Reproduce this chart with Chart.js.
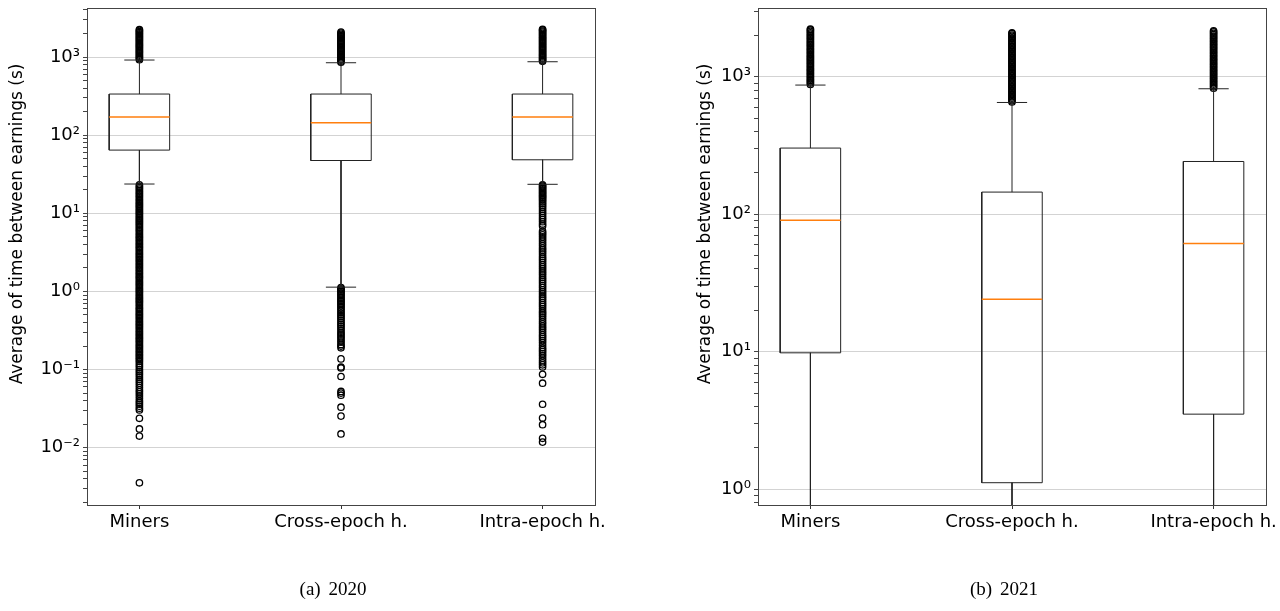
<!DOCTYPE html>
<html>
<head>
<meta charset="utf-8">
<script src="https://cdn.jsdelivr.net/npm/chart.js@4.4.1/dist/chart.umd.min.js"></script>
<style>
  body { margin: 0; background: #fff; }
  #wrap { position: relative; width: 1280px; height: 611px; }
  canvas { position: absolute; top: 0; }
  .caption {
    position: absolute; top: 578px; width: 200px; margin-left: -100px;
    text-align: center; font: 19px "Liberation Serif", "Times New Roman", serif;
    word-spacing: 3px; color: #000;
  }
</style>
</head>
<body>
<div id="wrap">
  <canvas id="chart-2020" width="640" height="611" style="left:0"></canvas>
  <canvas id="chart-2021" width="640" height="611" style="left:640px"></canvas>
  <div class="caption" style="left:333px">(a) 2020</div>
  <div class="caption" style="left:1004px">(b) 2021</div>
</div>
<script>
// Categories and axis labels
const categories = ["Miners", "Cross-epoch h.", "Intra-epoch h."]
const yTitle = "Average of time between earnings (s)"

// 2020 box statistics (seconds)
const q1_2020 = [64.4, 47.4, 48.4]
const median_2020 = [171, 144, 171]
const q3_2020 = [336, 336, 336]
const whiskerLow_2020 = [23.7, 1.135, 23.5]
const whiskerHigh_2020 = [915, 845, 870]

// 2020 outliers
const minersFliers_2020 = [925, 955, 990, 1025, 1060, 1100, 1140, 1180, 1220, 1265, 1310, 1355, 1400, 1450, 1500, 1555, 1610, 1665, 1725, 1785, 1850, 1915, 1980, 2050, 2120, 2190, 2250,
  23.2, 22.2, 21.3, 20.4, 19.5, 18.7, 17.9, 17.2, 16.5, 15.8, 15.1, 14.5, 13.9, 13.3, 12.8, 12.3, 11.8, 11.3, 10.8, 10.4,
  10, 9.6, 9.2, 8.8, 8.45, 8.1, 7.8, 7.5, 7.2, 6.9, 6.6, 6.3, 6.05, 5.8, 5.55, 5.3, 5.1, 4.9, 4.7, 4.5, 4.3, 4.12, 3.95, 3.8, 3.65, 3.5, 3.35, 3.2, 3.07, 2.95,
  2.83, 2.71, 2.6, 2.5, 2.4, 2.3, 2.2, 2.11, 2.02, 1.94, 1.86, 1.78, 1.71, 1.64, 1.57, 1.51, 1.45, 1.39, 1.33, 1.28, 1.23, 1.18, 1.13, 1.08, 1.04,
  1.0, 0.96, 0.92, 0.88, 0.845, 0.81, 0.78, 0.75, 0.72, 0.69, 0.66, 0.63, 0.605, 0.58, 0.555, 0.53, 0.51, 0.49, 0.47, 0.45, 0.43, 0.412, 0.395, 0.38, 0.365,
  0.35, 0.335, 0.32, 0.307, 0.295, 0.283, 0.271, 0.26, 0.25, 0.24, 0.23, 0.22, 0.211, 0.202, 0.194, 0.186, 0.178, 0.171, 0.164, 0.157, 0.151, 0.145, 0.139, 0.133,
  0.127, 0.12, 0.113, 0.107, 0.1, 0.095, 0.09, 0.085, 0.08, 0.075, 0.071, 0.067, 0.063, 0.059, 0.055, 0.052, 0.049, 0.046, 0.043, 0.04, 0.038, 0.036, 0.034, 0.032, 0.0305,
  0.0238, 0.0174, 0.0141, 0.00356]
const crossFliers_2020 = [855, 885, 915, 945, 980, 1015, 1050, 1085, 1125, 1165, 1205, 1245, 1290, 1335, 1380, 1430, 1480, 1530, 1585, 1640, 1700, 1760, 1820, 1885, 1950, 2020, 2080,
  1.12, 1.08, 1.04, 1.0, 0.96, 0.92, 0.88, 0.84, 0.8, 0.77, 0.74, 0.71, 0.68, 0.65, 0.62, 0.59, 0.56, 0.53, 0.5, 0.475, 0.45, 0.425, 0.4, 0.38, 0.36, 0.34, 0.32, 0.3,
  0.285, 0.27, 0.255, 0.24, 0.225, 0.21, 0.2, 0.19,
  0.137, 0.108, 0.105, 0.0816, 0.0525, 0.05, 0.047, 0.033, 0.0254, 0.015]
const intraFliers_2020 = [880, 910, 940, 975, 1010, 1045, 1080, 1120, 1160, 1200, 1240, 1285, 1330, 1375, 1425, 1475, 1525, 1580, 1635, 1690, 1750, 1810, 1875, 1940, 2010, 2080, 2150, 2220, 2260,
  23.2, 22.4, 21.6, 20.8, 20, 19.3, 18.6, 17.9, 17.2, 16.6, 16, 15.4, 14.8, 14.1, 13.4, 12.7, 12, 11.3, 10.6, 10, 9.4, 8.8, 8.3, 7.8, 7.3, 6.9,
  5.9, 5.6, 5.3, 5.0, 4.7, 4.4, 4.1, 3.85, 3.6, 3.4, 3.2, 3.0, 2.8, 2.65, 2.5, 2.35, 2.2, 2.07, 1.95, 1.83, 1.72, 1.62, 1.52, 1.43, 1.35, 1.27, 1.19, 1.12, 1.05,
  0.99, 0.93, 0.87, 0.82, 0.77, 0.72, 0.68, 0.64, 0.6, 0.56, 0.53, 0.5, 0.47, 0.44, 0.41, 0.385, 0.36, 0.34, 0.32, 0.3, 0.28, 0.265, 0.25, 0.235, 0.22, 0.205,
  0.19, 0.18, 0.17, 0.16, 0.15, 0.14, 0.13, 0.122, 0.115, 0.108,
  0.087, 0.067, 0.036, 0.024, 0.0197, 0.0132, 0.0118]

// 2021 box statistics (lower whiskers run below the visible range)
const q1_2021 = [9.83, 1.117, 3.52]
const median_2021 = [90.6, 24.1, 61.2]
const q3_2021 = [303, 145, 242]
const whiskerLow_2021 = [0.4, 0.3, 0.4]
const whiskerHigh_2021 = [870, 650, 818]

// 2021 outliers
const minersFliers_2021 = [880, 900, 920, 940, 960, 985, 1010, 1035, 1060, 1085, 1110, 1135, 1160, 1190, 1220, 1250, 1280, 1310, 1340, 1370, 1400,
  1435, 1470, 1505, 1540, 1575, 1610, 1650, 1690, 1730, 1770, 1810, 1855, 1900, 1945, 1990, 2040, 2090, 2140, 2190, 2220]
const crossFliers_2021 = [655, 670, 685, 700, 716, 733, 750, 767, 785, 803, 822, 841, 860, 880, 900, 921, 942, 964, 986, 1010, 1033, 1057, 1082, 1107, 1133, 1159,
  1186, 1214, 1242, 1271, 1300, 1330, 1361, 1393, 1425, 1458, 1492, 1527, 1562, 1598, 1635, 1673, 1712, 1752, 1793, 1835, 1878, 1921, 1966, 2012, 2060, 2090]
const intraFliers_2021 = [825, 845, 865, 885, 905, 926, 948, 970, 992, 1015, 1039, 1063, 1088, 1113, 1139, 1166, 1193, 1221, 1249, 1278, 1308, 1338,
  1369, 1401, 1434, 1467, 1501, 1536, 1572, 1609, 1646, 1684, 1723, 1763, 1804, 1846, 1889, 1933, 1978, 2024, 2071, 2120, 2160]

// Y tick labels
const majorTicks_2020 = [0.01, 0.1, 1, 10, 100, 1000]
const tickLabels_2020 = ["10\u207B\u00B2", "10\u207B\u00B9", "10\u2070", "10\u00B9", "10\u00B2", "10\u00B3"]
const majorTicks_2021 = [1, 10, 100, 1000]
const tickLabels_2021 = ["10\u2070", "10\u00B9", "10\u00B2", "10\u00B3"]

// Style
const BOX_HALF = 0.15
const CAP_HALF = 0.075
const LINE_COLOR = "#222"
const MEDIAN_COLOR = "#ff7f0e"
const GRID_COLOR = "#d3d3d3"
const FONT = '"DejaVu Sans", sans-serif'

function gap(x) {
  return { x: x, y: null }
}

function boxPoints(q1, q3) {
  const pts = []
  q1.forEach((lo, i) => {
    const x = i + 1
    pts.push({ x: x - BOX_HALF, y: lo }, { x: x + BOX_HALF, y: lo }, { x: x + BOX_HALF, y: q3[i] },
      { x: x - BOX_HALF, y: q3[i] }, { x: x - BOX_HALF, y: lo }, gap(x))
  })
  return pts
}

function whiskerPoints(q1, q3, lo, hi) {
  const pts = []
  q1.forEach((v, i) => {
    const x = i + 1
    pts.push({ x: x, y: v }, { x: x, y: lo[i] }, gap(x))
    pts.push({ x: x, y: q3[i] }, { x: x, y: hi[i] }, gap(x))
    pts.push({ x: x - CAP_HALF, y: lo[i] }, { x: x + CAP_HALF, y: lo[i] }, gap(x))
    pts.push({ x: x - CAP_HALF, y: hi[i] }, { x: x + CAP_HALF, y: hi[i] }, gap(x))
  })
  return pts
}

function medianPoints(med) {
  const pts = []
  med.forEach((m, i) => {
    const x = i + 1
    pts.push({ x: x - BOX_HALF, y: m }, { x: x + BOX_HALF, y: m }, gap(x))
  })
  return pts
}

function flierPoints(lists) {
  const pts = []
  lists.forEach((list, i) => list.forEach((v) => pts.push({ x: i + 1, y: v })))
  return pts
}

function isMajor(v) {
  const l = Math.log10(v)
  return Math.abs(l - Math.round(l)) < 1e-9
}

// Frame on all four sides plus the rotated y title
const framePlugin = {
  id: "frame",
  afterDraw(chart, args, opts) {
    const { ctx, chartArea: a } = chart
    ctx.save()
    ctx.strokeStyle = "#444"
    ctx.lineWidth = 1
    ctx.strokeRect(Math.round(a.left) + 0.5, Math.round(a.top) + 0.5, Math.round(a.right - a.left), Math.round(a.bottom - a.top))
    ctx.translate(opts.titleX, opts.titleY)
    ctx.rotate(-Math.PI / 2)
    ctx.font = "17px " + FONT
    ctx.fillStyle = "#000"
    ctx.textAlign = "center"
    ctx.textBaseline = "middle"
    ctx.fillText(yTitle, 0, 0)
    ctx.restore()
  },
}

function makeChart(id, d) {
  const ctx = document.getElementById(id).getContext("2d")
  return new Chart(ctx, {
    type: "scatter",
    data: {
      datasets: [
        { data: medianPoints(d.med), showLine: true, borderColor: MEDIAN_COLOR, borderWidth: 1.5, pointRadius: 0, spanGaps: false },
        { data: boxPoints(d.q1, d.q3), showLine: true, borderColor: LINE_COLOR, borderWidth: 1, pointRadius: 0, spanGaps: false },
        { data: whiskerPoints(d.q1, d.q3, d.lo, d.hi), showLine: true, borderColor: LINE_COLOR, borderWidth: 1, pointRadius: 0, spanGaps: false },
        { data: flierPoints(d.fliers), pointStyle: "circle", pointRadius: 3.2, borderWidth: 1.3, borderColor: "#000", backgroundColor: "rgba(0,0,0,0)" },
      ],
    },
    options: {
      responsive: false,
      animation: false,
      events: [],
      layout: { padding: { left: 0, top: 8, right: d.padRight, bottom: 0 } },
      plugins: {
        legend: { display: false },
        tooltip: { enabled: false },
        frame: { titleX: d.titleX, titleY: 224 },
      },
      scales: {
        x: {
          type: "linear",
          min: 0.74,
          max: 3.26,
          bounds: "data",
          afterBuildTicks: (scale) => {
            scale.ticks = categories.map((c, i) => ({ value: i + 1 }))
          },
          afterFit: (scale) => {
            scale.height = 106
            scale.paddingLeft = 0
            scale.paddingRight = 0
          },
          grid: { drawOnChartArea: false, drawTicks: true, tickLength: 4, tickColor: "#333" },
          border: { display: false },
          ticks: {
            autoSkip: false,
            maxRotation: 0,
            padding: 3,
            color: "#000",
            font: { family: FONT, size: 18 },
            callback: (v) => categories[Math.round(v) - 1],
          },
        },
        y: {
          type: "logarithmic",
          min: d.yMin,
          max: d.yMax,
          bounds: "data",
          afterBuildTicks: (scale) => {
            const ticks = []
            for (let e = Math.floor(Math.log10(d.yMin)); e <= Math.ceil(Math.log10(d.yMax)); e++) {
              for (let m = 1; m <= 9; m++) {
                const v = Number((m * Math.pow(10, e)).toPrecision(6))
                if (v >= d.yMin && v <= d.yMax) ticks.push({ value: v, major: m === 1 })
              }
            }
            scale.ticks = ticks
          },
          afterFit: (scale) => {
            scale.width = d.yWidth
            scale.paddingTop = 0
            scale.paddingBottom = 0
          },
          grid: {
            color: (c) => (c.tick && isMajor(c.tick.value) ? GRID_COLOR : "rgba(0,0,0,0)"),
            tickColor: "#444",
            tickLength: 4,
            lineWidth: 1,
          },
          border: { display: false },
          ticks: {
            autoSkip: false,
            padding: 3,
            color: "#000",
            font: { family: FONT, size: 18 },
            callback: (v) => {
              const idx = d.majors.findIndex((m) => Math.abs(m - v) / m < 1e-6)
              return idx >= 0 ? d.labels[idx] : ""
            },
          },
        },
      },
    },
    plugins: [framePlugin],
  })
}

makeChart("chart-2020", {
  q1: q1_2020, q3: q3_2020, med: median_2020, lo: whiskerLow_2020, hi: whiskerHigh_2020,
  fliers: [minersFliers_2020, crossFliers_2020, intraFliers_2020],
  majors: majorTicks_2020, labels: tickLabels_2020,
  yMin: 0.00185, yMax: 4240, yWidth: 87, padRight: 45, titleX: 18,
})

makeChart("chart-2021", {
  q1: q1_2021, q3: q3_2021, med: median_2021, lo: whiskerLow_2021, hi: whiskerHigh_2021,
  fliers: [minersFliers_2021, crossFliers_2021, intraFliers_2021],
  majors: majorTicks_2021, labels: tickLabels_2021,
  yMin: 0.769, yMax: 3162, yWidth: 118, padRight: 14, titleX: 66,
})
</script>
</body>
</html>
